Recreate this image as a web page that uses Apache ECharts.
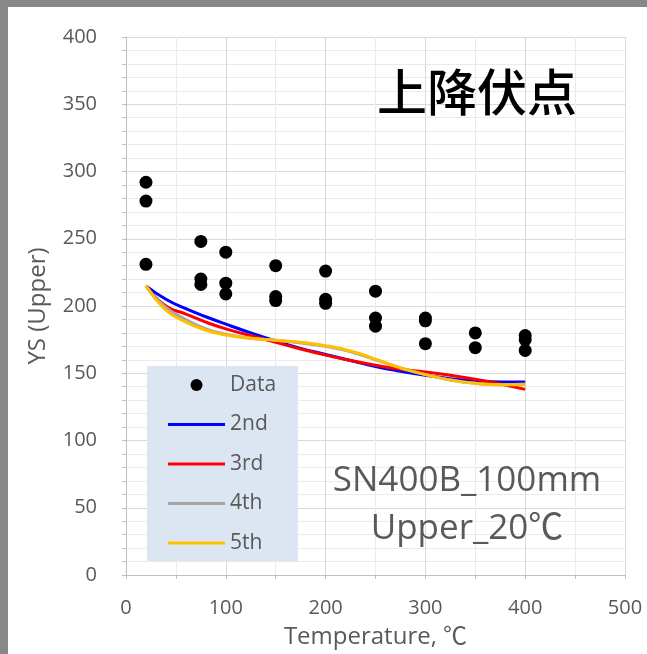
<!DOCTYPE html>
<html>
<head>
<meta charset="utf-8">
<script src="https://cdn.jsdelivr.net/npm/echarts@6/dist/echarts.min.js"></script>
<style>
html,body{margin:0;padding:0;background:#fff;}
#chart{width:647px;height:654px;}
</style>
</head>
<body>
<div id="chart"></div>
<script>
// Measured data (temperature °C, YS upper)
const tempData = [20,20,20,75,75,75,100,100,100,150,150,150,200,200,200,250,250,250,300,300,300,350,350,400,400,400];
const ysData   = [292,278,231,248,220,216,240,217,209,230,207,204,226,205,202,211,191,185,191,189,172,180,169,178,175,167];

// Fit curves
const fitT   = [20,40,60,80,100,125,150,175,200,225,250,275,300,325,350,375,400];
const fit2nd = [215,205,198,192,186.5,180,174,168.5,164,159.5,155,151.5,148.5,146,144.5,143.5,143.5];
const fit3rd = [215,200,194,188,183,178,173,168,163.5,159.5,156,153,151,148.5,145.5,142,138];
const fit4th = [215,199,190,183,179,176,174.5,172.5,170,166,160,154,149,145,142.5,141.5,142];
const fit5th = [215,197,188,182,178.5,176,174.5,173,170.5,166.5,160.5,154,149,145,142.5,141.5,141.5];

const seriesNames = ['Data','2nd','3rd','4th','5th'];
const xTicks = [0,100,200,300,400,500];
const yTicks = [0,50,100,150,200,250,300,350,400];

const pairs = (xs, ys) => xs.map((x, i) => [x, ys[i]]);

const chart = echarts.init(document.getElementById('chart'));
const labelFont = '"Open Sans", "Noto Sans CJK JP", sans-serif';
const lineIcon = 'path://M0,0H57V3H0Z';

chart.setOption({
  animation: false,
  backgroundColor: '#ffffff',
  grid: { left: 126, right: 22, top: 37, bottom: 76, containLabel: false },
  xAxis: {
    type: 'value', min: xTicks[0], max: xTicks[xTicks.length-1], interval: 100,
    name: 'Temperature, ℃', nameLocation: 'middle', nameGap: 50,
    nameTextStyle: { color: '#595959', fontSize: 24, fontFamily: labelFont },
    axisLine: { show: true, lineStyle: { color: '#bfbfbf', width: 1 } },
    axisTick: { show: true, length: 4, lineStyle: { color: '#bfbfbf' } },
    minorTick: { show: true, splitNumber: 2, length: 4, lineStyle: { color: '#bfbfbf' } },
    axisLabel: { color: '#595959', fontSize: 20, margin: 23, fontFamily: labelFont },
    splitLine: { show: true, lineStyle: { color: '#d9d9d9', width: 1 } },
    minorSplitLine: { show: true, lineStyle: { color: '#ebebeb', width: 1 } }
  },
  yAxis: {
    type: 'value', min: yTicks[0], max: yTicks[yTicks.length-1], interval: 50,
    name: 'YS (Upper)', nameLocation: 'middle', nameGap: 76, nameRotate: 90,
    nameTextStyle: { color: '#595959', fontSize: 24, fontFamily: labelFont },
    axisLine: { show: true, lineStyle: { color: '#bfbfbf', width: 1 } },
    axisTick: { show: true, length: 4, lineStyle: { color: '#bfbfbf' } },
    minorTick: { show: true, splitNumber: 5, length: 4, lineStyle: { color: '#bfbfbf' } },
    axisLabel: { color: '#595959', fontSize: 20, margin: 29, fontFamily: labelFont },
    splitLine: { show: true, lineStyle: { color: '#d9d9d9', width: 1 } },
    minorSplitLine: { show: true, lineStyle: { color: '#ebebeb', width: 1 } }
  },
  legend: {
    orient: 'vertical', left: 147, top: 366,
    backgroundColor: '#dce6f2',
    padding: [8, 22, 7, 21],
    itemWidth: 57, itemHeight: 12, itemGap: 17.5,
    data: [
      { name: seriesNames[0], icon: 'circle' },
      { name: seriesNames[1], icon: lineIcon },
      { name: seriesNames[2], icon: lineIcon },
      { name: seriesNames[3], icon: lineIcon },
      { name: seriesNames[4], icon: lineIcon }
    ],
    textStyle: { color: '#595959', fontSize: 21, lineHeight: 22, fontFamily: labelFont }
  },
  graphic: [
    { type: 'rect', left: 0, top: 0, shape: { width: 8, height: 654 }, style: { fill: '#888888' }, z: 100 },
    { type: 'rect', left: 0, top: 0, shape: { width: 647, height: 7 }, style: { fill: '#888888' }, z: 100 },
    { type: 'text', left: 377, top: 67, style: { text: '上降伏点', fill: '#000000', font: '500 50px "Noto Sans CJK JP"' }, z: 100 },
    { type: 'text', x: 467, y: 481, style: { text: 'SN400B_100mm', fill: '#595959', font: '35px ' + labelFont, align: 'center', verticalAlign: 'middle' }, z: 100 },
    { type: 'text', x: 467, y: 529, style: { text: 'Upper_20℃', fill: '#595959', font: '35px ' + labelFont, align: 'center', verticalAlign: 'middle' }, z: 100 }
  ],
  series: [
    { name: seriesNames[0], type: 'scatter', data: pairs(tempData, ysData), symbol: 'circle', symbolSize: 13, itemStyle: { color: '#000000', opacity: 1 }, z: 5 },
    { name: seriesNames[1], type: 'line', data: pairs(fitT, fit2nd), smooth: true, symbol: 'none', lineStyle: { color: '#0000ff', width: 3 }, itemStyle: { color: '#0000ff' } },
    { name: seriesNames[2], type: 'line', data: pairs(fitT, fit3rd), smooth: true, symbol: 'none', lineStyle: { color: '#ff0000', width: 3 }, itemStyle: { color: '#ff0000' } },
    { name: seriesNames[3], type: 'line', data: pairs(fitT, fit4th), smooth: true, symbol: 'none', lineStyle: { color: '#a5a5a5', width: 3 }, itemStyle: { color: '#a5a5a5' } },
    { name: seriesNames[4], type: 'line', data: pairs(fitT, fit5th), smooth: true, symbol: 'none', lineStyle: { color: '#ffc000', width: 3 }, itemStyle: { color: '#ffc000' } }
  ]
});
</script>
</body>
</html>
